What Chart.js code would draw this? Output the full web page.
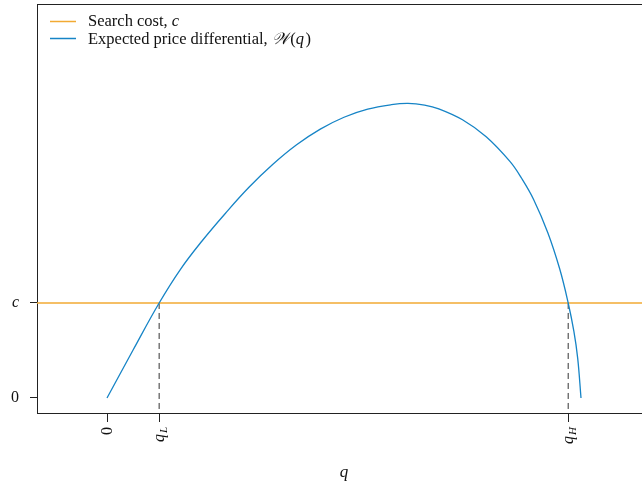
<!DOCTYPE html>
<html>
<head>
<meta charset="utf-8">
<script src="https://cdn.jsdelivr.net/npm/chart.js@4.4.0/dist/chart.umd.min.js"></script>
<style>
  html, body { margin: 0; padding: 0; background: #fff; overflow: hidden; }
  #wrap { width: 642px; height: 489px; }
</style>
</head>
<body>
<div id="wrap"><canvas id="chart" width="642" height="489"></canvas></div>
<script>
// search cost level and the two crossing points
const searchCost = 1;
const qLow = 0.110;
const qHigh = 0.973;

// expected price differential W(q)
const qValues = [0, 0.055, 0.110, 0.155, 0.20, 0.25, 0.30, 0.35, 0.40, 0.45, 0.50, 0.55, 0.60, 0.635, 0.67, 0.70, 0.75, 0.80, 0.85, 0.875, 0.90, 0.93, 0.955, 0.973, 0.985, 0.993, 1.0];
const wValues = [0, 0.505, 1.0, 1.355, 1.65, 1.945, 2.22, 2.46, 2.665, 2.83, 2.955, 3.04, 3.087, 3.10, 3.083, 3.044, 2.929, 2.75, 2.49, 2.31, 2.09, 1.74, 1.36, 1.0, 0.70, 0.42, 0];

// axis ticks and their labels
const xTicks = [0, qLow, qHigh];
const xTickLabels = [["0", ""], ["q", "L"], ["q", "H"]];
const yTicks = [0, searchCost];
const yTickLabels = ["0", "c"];

const xMin = -0.1477, xMax = 1.1287;
const yMin = -0.158, yMax = 4.147;

const orange = "#f2aa33";
const blue = "#1684c6";
const serif = "'Liberation Serif', 'DejaVu Serif', serif";

const curve = qValues.map((q, i) => ({ x: q, y: wValues[i] }));

// text labels drawn on top of the chart (tick labels with subscripts, legend, axis title)
const labelsPlugin = {
  id: "labels",
  afterDraw(chart) {
    const c = chart.ctx;
    const xs = chart.scales.x;
    const ys = chart.scales.y;
    c.save();
    c.fillStyle = "#111";

    // y tick labels
    c.textAlign = "right";
    c.textBaseline = "middle";
    yTicks.forEach((v, i) => {
      const italic = yTickLabels[i] !== "0";
      c.font = (italic ? "italic " : "") + "16px " + serif;
      c.fillText(yTickLabels[i], 19, ys.getPixelForValue(v));
    });

    // x tick labels, rotated so they read upward and end near the axis
    xTicks.forEach((v, i) => {
      const px = xs.getPixelForValue(v);
      const [main, sub] = xTickLabels[i];
      c.save();
      c.translate(px, 427);
      c.rotate(-Math.PI / 2);
      c.textBaseline = "middle";
      c.textAlign = "left";
      const italic = main !== "0";
      c.font = (italic ? "italic " : "") + "16px " + serif;
      const mw = c.measureText(main).width;
      c.font = "italic 11px " + serif;
      const sw = sub ? c.measureText(sub).width + 1 : 0;
      const start = -(mw + sw);
      c.font = (italic ? "italic " : "") + "16px " + serif;
      c.fillText(main, start, 1);
      if (sub) {
        c.font = "italic 11px " + serif;
        c.fillText(sub, start + mw + 1, 5);
      }
      c.restore();
    });

    // x axis title
    c.font = "italic 17px " + serif;
    c.textAlign = "center";
    c.textBaseline = "middle";
    c.fillText("q", 344, 473);

    // legend
    c.lineWidth = 1.5;
    c.strokeStyle = orange;
    c.beginPath(); c.moveTo(50, 21.5); c.lineTo(76, 21.5); c.stroke();
    c.strokeStyle = blue;
    c.beginPath(); c.moveTo(50, 38.5); c.lineTo(76, 38.5); c.stroke();

    c.textAlign = "left";
    c.textBaseline = "alphabetic";
    let x = 88;
    c.font = "16.5px " + serif;
    c.fillText("Search cost, ", x, 26);
    x += c.measureText("Search cost, ").width;
    c.font = "italic 16.5px " + serif;
    c.fillText("c", x, 26);

    x = 88;
    const parts = [
      ["Expected price differential, ", ""],
      ["\u{1D4B2}", "italic "],
      ["(", ""],
      ["q", "italic "],
      [")", ""]
    ];
    parts.forEach(([t, style]) => {
      c.font = style + "16.5px " + serif;
      c.fillText(t, x, 44);
      x += c.measureText(t).width + (style ? 1.5 : 0);
    });
    c.restore();
  }
};

const ctx = document.getElementById("chart").getContext("2d");
new Chart(ctx, {
  type: "line",
  data: {
    datasets: [
      {
        label: "Expected price differential",
        data: curve,
        borderColor: blue,
        borderWidth: 1.3,
        pointRadius: 0,
        tension: 0.4,
        fill: false
      },
      {
        label: "Search cost",
        data: [{ x: xMin, y: searchCost }, { x: xMax, y: searchCost }],
        borderColor: orange,
        borderWidth: 1.3,
        pointRadius: 0
      },
      {
        label: "qL drop",
        data: [{ x: qLow, y: searchCost }, { x: qLow, y: yMin }],
        borderColor: "#333",
        borderWidth: 1,
        borderDash: [6, 4],
        pointRadius: 0
      },
      {
        label: "qH drop",
        data: [{ x: qHigh, y: searchCost }, { x: qHigh, y: yMin }],
        borderColor: "#333",
        borderWidth: 1,
        borderDash: [6, 4],
        pointRadius: 0
      }
    ]
  },
  options: {
    responsive: false,
    animation: false,
    layout: { padding: 0 },
    plugins: {
      legend: { display: false },
      tooltip: { enabled: false }
    },
    scales: {
      x: {
        type: "linear",
        position: "bottom",
        min: xMin,
        max: xMax,
        afterBuildTicks: (scale) => { scale.ticks = xTicks.map(v => ({ value: v })); },
        afterFit: (scale) => { scale.height = 76; },
        ticks: { display: false },
        grid: { drawOnChartArea: false, drawTicks: true, tickLength: 9, color: "#222", lineWidth: 1 },
        border: { display: true, color: "#222", width: 1 }
      },
      xTop: {
        type: "linear",
        position: "top",
        min: xMin,
        max: xMax,
        afterFit: (scale) => { scale.height = 4; },
        ticks: { display: false },
        grid: { display: false },
        border: { display: true, color: "#222", width: 1 }
      },
      y: {
        type: "linear",
        min: yMin,
        max: yMax,
        afterBuildTicks: (scale) => { scale.ticks = yTicks.map(v => ({ value: v })); },
        afterFit: (scale) => { scale.width = 37; },
        ticks: { display: false },
        grid: { drawOnChartArea: false, drawTicks: true, tickLength: 7, color: "#222", lineWidth: 1 },
        border: { display: true, color: "#222", width: 1 }
      }
    }
  },
  plugins: [labelsPlugin]
});
</script>
</body>
</html>
